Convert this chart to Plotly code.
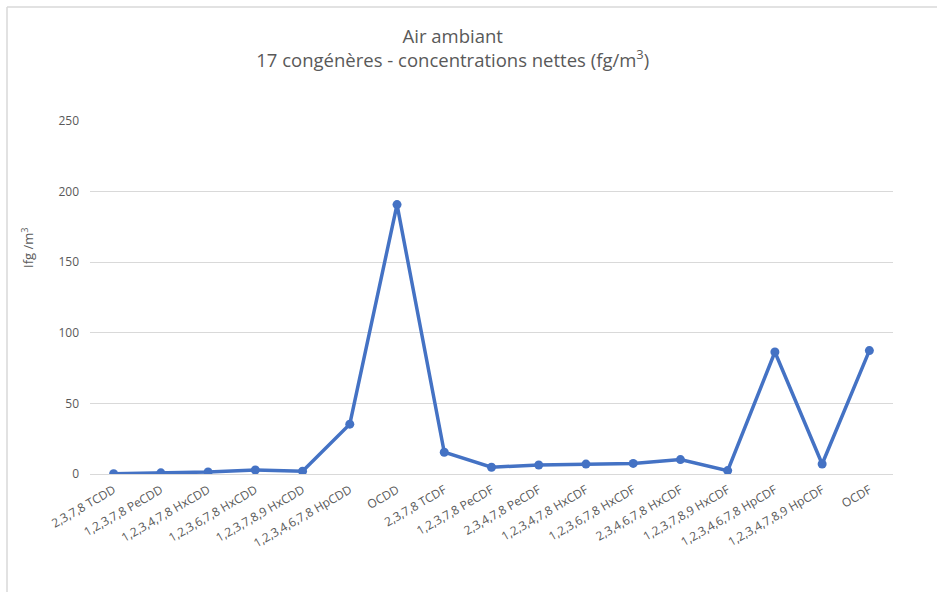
import plotly.graph_objects as go

categories = [
    "2,3,7,8 TCDD", "1,2,3,7,8 PeCDD", "1,2,3,4,7,8 HxCDD", "1,2,3,6,7,8 HxCDD",
    "1,2,3,7,8,9 HxCDD", "1,2,3,4,6,7,8 HpCDD", "OCDD", "2,3,7,8 TCDF",
    "1,2,3,7,8 PeCDF", "2,3,4,7,8 PeCDF", "1,2,3,4,7,8 HxCDF", "1,2,3,6,7,8 HxCDF",
    "2,3,4,6,7,8 HxCDF", "1,2,3,7,8,9 HxCDF", "1,2,3,4,6,7,8 HpCDF",
    "1,2,3,4,7,8,9 HpCDF", "OCDF",
]
values = [0.2, 0.8, 1.4, 2.8, 2.0, 35.3, 190.8, 15.4, 4.8, 6.4, 7.0, 7.5, 10.2, 2.4, 86.4, 7.1, 87.4]
y_ticks = [0, 50, 100, 150, 200, 250]

LINE = "#4472C4"
GRID = "#d9d9d9"
TXT = "#595959"
FONT = "Open Sans"

fig = go.Figure()
fig.add_trace(go.Scatter(
    x=categories, y=values, mode="lines+markers",
    line=dict(color=LINE, width=3.5),
    marker=dict(color=LINE, size=9),
    showlegend=False,
))

W, H = 937, 592
L, R, T, B = 90, 44, 121, 118
pw, ph = W - L - R, H - T - B

def px(x):
    return (x - L) / pw

def py(y):
    return (H - B - y) / ph

fig.update_layout(
    width=W, height=H,
    margin=dict(l=L, r=R, t=T, b=B, autoexpand=False),
    paper_bgcolor="white", plot_bgcolor="white",
    font=dict(family=FONT, color=TXT, size=12),
    title=dict(
        text="Air ambiant<br>17 congénères - concentrations nettes (fg/m<sup>3</sup>)",
        x=px(478), xanchor="center", y=1 - 43 / H, yanchor="middle",
        font=dict(family=FONT, size=18.5, color=TXT),
    ),
    xaxis=dict(
        type="category", tickangle=-30, showgrid=False, ticks="",
        showline=False, zeroline=False, automargin=False,
        range=[-0.5, len(categories) - 0.5], ticklabelstandoff=6,
        tickfont=dict(family=FONT, size=12, color=TXT),
    ),
    yaxis=dict(
        range=[0, 250], tickvals=y_ticks, showgrid=True, gridcolor=GRID,
        gridwidth=1, zeroline=True, zerolinecolor=GRID, zerolinewidth=1,
        showline=False, ticks="", ticklabelstandoff=10, automargin=False,
        tickfont=dict(family=FONT, size=12, color=TXT),
    ),
    annotations=[dict(
        text="Ifg /m<sup>3</sup>", xref="paper", yref="paper",
        x=px(27), y=py(248), xanchor="center", yanchor="middle",
        textangle=-90, showarrow=False,
        font=dict(family=FONT, size=13, color=TXT),
    )],
    shapes=[
        dict(type="line", xref="paper", yref="paper", x0=px(7), x1=px(W + 5),
             y0=py(7), y1=py(7), line=dict(color=GRID, width=1.5)),
        dict(type="line", xref="paper", yref="paper", x0=px(7), x1=px(7),
             y0=py(7), y1=py(H + 5), line=dict(color=GRID, width=1.5)),
    ],
)

fig.write_html("out.html", config={"displayModeBar": False},
               post_script="document.body.style.margin='0px';")
